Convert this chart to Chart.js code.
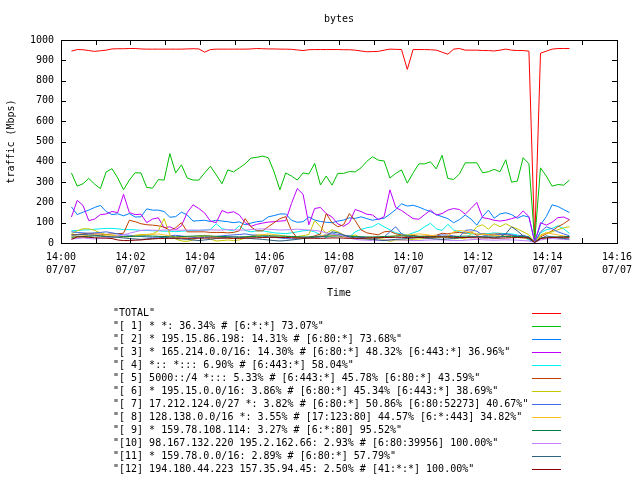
<!DOCTYPE html>
<html>
<head>
<meta charset="utf-8">
<script src="https://cdn.jsdelivr.net/npm/chart.js@4.4.0/dist/chart.umd.min.js"></script>
<style>
  body { margin: 0; background: #fff; }
  canvas { display: block; }
</style>
</head>
<body>
<canvas id="trafficChart" width="640" height="480"></canvas>
<script>
// samples every 10 s, first one 18 s after 14:00 (x axis in minutes)
var sampleStart = 18, sampleStep = 10, sampleCount = 87;
var times = [];
for (var i = 0; i < sampleCount; i++) times.push((sampleStart + i * sampleStep) / 60);

var xTickHours = '14', xTickDate = '07/07';

var seriesNames = [
    '"TOTAL"',
    '"[ 1] * *: 36.34% # [6:*:*] 73.07%"',
    '"[ 2] * 195.15.86.198: 14.31% # [6:80:*] 73.68%"',
    '"[ 3] * 165.214.0.0/16: 14.30% # [6:80:*] 48.32% [6:443:*] 36.96%"',
    '"[ 4] *:: *::: 6.90% # [6:443:*] 58.04%"',
    '"[ 5] 5000::/4 *::: 5.33% # [6:443:*] 45.78% [6:80:*] 43.59%"',
    '"[ 6] * 195.15.0.0/16: 3.86% # [6:80:*] 45.34% [6:443:*] 38.69%"',
    '"[ 7] 17.212.124.0/27 *: 3.82% # [6:80:*] 50.86% [6:80:52273] 40.67%"',
    '"[ 8] 128.138.0.0/16 *: 3.55% # [17:123:80] 44.57% [6:*:443] 34.82%"',
    '"[ 9] * 159.78.108.114: 3.27% # [6:*:80] 95.52%"',
    '"[10] 98.167.132.220 195.2.162.66: 2.93% # [6:80:39956] 100.00%"',
    '"[11] * 159.78.0.0/16: 2.89% # [6:80:*] 57.79%"',
    '"[12] 194.180.44.223 157.35.94.45: 2.50% # [41:*:*] 100.00%"'
];
var seriesColors = ['#ff0000', '#00c000', '#0080ff', '#c000ff', '#00eeee', '#c04000', '#c8c800',
    '#4169e1', '#ffc020', '#008040', '#c080ff', '#306080', '#8b0000'];

var total = [945, 953, 952, 948, 944, 947, 950, 956, 957, 957,
    958, 958, 956, 955, 955, 955, 955, 955, 955, 955,
    956, 957, 956, 940, 953, 955, 955, 955, 955, 955,
    955, 956, 958, 957, 956, 956, 955, 955, 954, 951,
    948, 952, 953, 953, 953, 953, 953, 952, 952, 950,
    946, 942, 943, 944, 950, 955, 954, 953, 855, 953,
    953, 953, 952, 950, 940, 930, 955, 958, 950, 950,
    950, 948, 948, 946, 950, 955, 950, 948, 948, 945,
    5, 935, 945, 955, 958, 958, 958];
var s1 = [345, 280, 292, 318, 290, 268, 350, 366, 320, 262,
    310, 346, 345, 274, 270, 312, 310, 440, 345, 385,
    320, 310, 310, 345, 378, 336, 292, 360, 350, 370,
    390, 418, 422, 428, 420, 350, 262, 345, 330, 310,
    345, 340, 392, 286, 330, 285, 343, 343, 352, 350,
    370, 402, 425, 408, 404, 320, 343, 360, 295, 345,
    390, 390, 400, 365, 432, 318, 313, 340, 395, 395,
    395, 346, 351, 363, 351, 410, 300, 305, 420, 390,
    10, 370, 330, 280, 288, 285, 310];
var s2 = [178, 140, 152, 162, 175, 185, 155, 140, 144, 134,
    145, 128, 129, 168, 162, 162, 155, 127, 130, 152,
    138, 108, 110, 112, 106, 112, 108, 105, 100, 104,
    90, 98, 105, 108, 129, 135, 143, 143, 112, 102,
    105, 128, 113, 106, 102, 100, 108, 113, 124, 121,
    129, 120, 112, 118, 122, 142, 165, 193, 182, 186,
    177, 165, 155, 140, 130, 120, 100, 115, 138, 118,
    88, 130, 162, 122, 143, 149, 140, 122, 135, 128,
    5, 90, 130, 188, 180, 165, 150];
var s3 = [128, 210, 185, 110, 118, 140, 143, 155, 150, 240,
    150, 140, 142, 100, 118, 124, 75, 80, 65, 85,
    150, 188, 170, 148, 108, 100, 160, 148, 154, 138,
    100, 82, 92, 98, 103, 105, 108, 110, 195, 268,
    240, 90, 170, 175, 145, 128, 94, 82, 100, 165,
    155, 142, 138, 115, 130, 262, 175, 160, 140, 120,
    117, 140, 162, 138, 145, 162, 170, 165, 142, 170,
    200, 125, 120, 112, 108, 112, 120, 128, 158, 130,
    5, 100, 88, 102, 125, 128, 115];
var s4 = [60, 62, 64, 65, 68, 70, 72, 72, 70, 66,
    66, 65, 62, 62, 60, 60, 58, 58, 56, 58,
    60, 62, 62, 64, 66, 95, 70, 65, 60, 85,
    62, 55, 60, 60, 55, 50, 48, 46, 50, 55,
    60, 62, 55, 40, 25, 50, 40, 35, 30, 55,
    67, 75, 80, 97, 80, 65, 50, 45, 40, 50,
    60, 80, 97, 70, 62, 92, 64, 55, 50, 45,
    44, 44, 46, 50, 48, 46, 45, 40, 30, 15,
    3, 50, 65, 72, 85, 70, 47];
var s5 = [40, 42, 45, 48, 45, 44, 42, 45, 46, 48,
    112, 105, 95, 90, 88, 85, 78, 62, 75, 100,
    55, 55, 55, 55, 52, 52, 52, 50, 52, 60,
    120, 80, 60, 60, 80, 100, 120, 130, 60, 25,
    25, 28, 35, 45, 145, 100, 80, 90, 145, 110,
    65, 50, 45, 40, 55, 58, 45, 40, 32, 38,
    32, 34, 36, 38, 48, 45, 50, 52, 48, 55,
    38, 45, 42, 44, 45, 40, 38, 32, 30, 25,
    3, 30, 45, 60, 80, 95, 115];
var s6 = [45, 60, 70, 70, 62, 50, 40, 38, 35, 32,
    30, 38, 42, 42, 45, 60, 120, 40, 20, 10,
    8, 15, 30, 35, 20, 10, 12, 15, 12, 15,
    25, 35, 40, 40, 38, 32, 28, 28, 30, 32,
    36, 42, 110, 80, 48, 65, 55, 40, 32, 40,
    25, 20, 18, 22, 18, 8, 15, 15, 15, 18,
    20, 22, 25, 28, 30, 30, 20, 25, 20, 45,
    80, 90, 68, 95, 80, 95, 80, 70, 55, 40,
    3, 40, 50, 55, 65, 75, 80];
var s7 = [55, 52, 50, 48, 50, 52, 55, 50, 45, 40,
    38, 35, 32, 30, 28, 30, 32, 35, 38, 35,
    30, 28, 25, 28, 30, 32, 35, 38, 40, 42,
    45, 40, 38, 35, 30, 28, 25, 22, 20, 22,
    25, 28, 30, 35, 40, 45, 42, 38, 35, 30,
    28, 25, 22, 25, 30, 55, 80, 45, 35, 30,
    28, 25, 30, 35, 40, 38, 35, 30, 62, 65,
    58, 40, 35, 38, 42, 45, 40, 35, 38, 30,
    3, 55, 80, 70, 55, 45, 35];
var s8 = [30, 32, 35, 38, 40, 38, 35, 30, 28, 30,
    32, 35, 38, 40, 42, 45, 40, 35, 30, 28,
    30, 32, 35, 38, 35, 30, 28, 25, 22, 25,
    28, 30, 35, 40, 45, 42, 38, 35, 30, 25,
    22, 25, 30, 35, 40, 38, 35, 30, 25, 22,
    20, 22, 25, 28, 30, 32, 35, 38, 40, 42,
    45, 42, 38, 35, 30, 35, 55, 62, 58, 50,
    45, 42, 40, 38, 35, 32, 30, 28, 25, 22,
    3, 35, 50, 45, 40, 35, 30];
var s9 = [28, 30, 32, 33, 35, 34, 32, 30, 30, 31,
    32, 33, 34, 35, 34, 33, 32, 30, 30, 32,
    33, 34, 35, 35, 34, 33, 32, 31, 30, 30,
    31, 32, 33, 34, 35, 35, 34, 33, 32, 31,
    30, 30, 31, 32, 33, 34, 35, 34, 33, 32,
    31, 30, 30, 31, 32, 33, 34, 35, 35, 34,
    33, 32, 31, 30, 30, 31, 32, 33, 34, 33,
    32, 31, 30, 30, 31, 32, 33, 32, 31, 30,
    3, 25, 28, 30, 30, 31, 32];
var s10 = [20, 22, 25, 22, 20, 22, 25, 30, 35, 40,
    48, 55, 62, 64, 63, 62, 64, 65, 64, 63,
    64, 64, 63, 64, 65, 64, 64, 66, 65, 64,
    64, 66, 68, 70, 68, 66, 64, 65, 66, 68,
    66, 64, 62, 58, 50, 45, 40, 35, 25, 18,
    15, 14, 12, 12, 14, 15, 16, 15, 14, 12,
    12, 14, 15, 16, 15, 14, 12, 12, 14, 16,
    18, 16, 15, 14, 15, 16, 15, 14, 12, 10,
    3, 15, 20, 22, 20, 18, 16];
var s11 = [38, 40, 42, 40, 38, 35, 32, 30, 28, 25,
    22, 20, 18, 20, 22, 25, 28, 25, 22, 20,
    18, 15, 12, 15, 18, 22, 25, 28, 30, 28,
    25, 22, 20, 18, 15, 12, 10, 12, 15, 18,
    22, 25, 28, 30, 35, 55, 50, 40, 30, 25,
    22, 20, 18, 15, 12, 15, 18, 20, 22, 25,
    28, 25, 22, 20, 18, 20, 22, 25, 28, 30,
    32, 30, 28, 25, 30, 45, 80, 60, 35, 20,
    3, 20, 35, 30, 25, 22, 20];
var s12 = [18, 30, 30, 28, 26, 25, 24, 22, 15, 12,
    12, 14, 15, 18, 20, 22, 22, 23, 24, 24,
    23, 23, 24, 24, 25, 25, 24, 24, 23, 23,
    24, 25, 26, 27, 28, 28, 27, 27, 26, 25,
    24, 24, 23, 23, 24, 25, 25, 24, 23, 23,
    24, 25, 26, 26, 27, 27, 28, 28, 27, 26,
    27, 28, 29, 30, 30, 29, 28, 27, 27, 26,
    26, 25, 25, 24, 24, 25, 26, 27, 26, 25,
    3, 22, 25, 27, 28, 28, 28];

var allSeries = [total, s1, s2, s3, s4, s5, s6, s7, s8, s9, s10, s11, s12];

var datasets = allSeries.map(function(values, k) {
    return {
        label: seriesNames[k],
        data: values.map(function(v, j) { return { x: times[j], y: v }; }),
        borderColor: seriesColors[k],
        backgroundColor: seriesColors[k],
        borderWidth: 1,
        pointRadius: 0,
        tension: 0,
        fill: false,
        order: allSeries.length - k   // TOTAL drawn first, [12] on top like gnuplot
    };
});

// gnuplot look: frame, inward tics, title and key drawn by hand
var gnuplotLook = {
    id: 'gnuplotLook',
    beforeDraw: function(chart) {
        var c = chart.ctx;
        c.save();
        c.fillStyle = '#fff';
        c.fillRect(0, 0, chart.width, chart.height);
        c.restore();
    },
    afterDatasetsDraw: function(chart) {
        var c = chart.ctx, a = chart.chartArea;
        var xs = chart.scales.x, ys = chart.scales.y;
        c.save();
        c.strokeStyle = '#000';
        c.lineWidth = 1;
        c.strokeRect(Math.round(a.left) + 0.5, Math.round(a.top) + 0.5,
            Math.round(a.right - a.left), Math.round(a.bottom - a.top));
        c.beginPath();
        ys.ticks.forEach(function(t) {
            var y = Math.round(ys.getPixelForValue(t.value)) + 0.5;
            c.moveTo(a.left, y); c.lineTo(a.left + 5, y);
            c.moveTo(a.right, y); c.lineTo(a.right - 5, y);
        });
        for (var m = 0; m <= 16; m++) {
            var x = Math.round(xs.getPixelForValue(m)) + 0.5;
            c.moveTo(x, a.bottom); c.lineTo(x, a.bottom - 5);
            c.moveTo(x, a.top); c.lineTo(x, a.top + 5);
        }
        c.stroke();
        c.restore();
    },
    afterDraw: function(chart) {
        var c = chart.ctx, a = chart.chartArea;
        c.save();
        c.fillStyle = '#000';
        c.font = "10px 'DejaVu Sans Mono'";
        c.textAlign = 'center';
        c.textBaseline = 'middle';
        c.fillText('bytes', (a.left + a.right) / 2, 19);
        c.textAlign = 'left';
        chart.data.datasets.forEach(function(ds, k) {
            var y = 313 + k * 13;
            c.fillStyle = '#000';
            c.fillText(ds.label, 113, y);
            c.strokeStyle = ds.borderColor;
            c.lineWidth = 1;
            c.beginPath();
            c.moveTo(532, Math.round(y) + 0.5);
            c.lineTo(561, Math.round(y) + 0.5);
            c.stroke();
        });
        c.restore();
    }
};

Chart.defaults.font.family = "'DejaVu Sans Mono', monospace";
Chart.defaults.font.size = 10;
Chart.defaults.color = '#000';

var ctx = document.getElementById('trafficChart').getContext('2d');
var trafficChart = new Chart(ctx, {
    type: 'line',
    data: { datasets: datasets },
    options: {
        responsive: false,
        animation: false,
        devicePixelRatio: 1,
        layout: { padding: { top: 40, right: 19, bottom: 181, left: 0 } },
        plugins: {
            legend: { display: false },
            tooltip: { enabled: false }
        },
        scales: {
            x: {
                type: 'linear',
                min: 0,
                max: 16,
                grid: { display: false, drawTicks: false },
                border: { display: false },
                ticks: {
                    stepSize: 2,
                    padding: 8,
                    maxRotation: 0,
                    font: { size: 10, lineHeight: 1.3 },
                    callback: function(v) {
                        return [xTickHours + ':' + (v < 10 ? '0' : '') + v, xTickDate];
                    }
                },
                title: { display: true, text: 'Time', padding: { top: 4, bottom: 0 } },
                afterFit: function(scale) { scale.height = 56; }
            },
            y: {
                min: 0,
                max: 1000,
                grid: { display: false, drawTicks: false },
                border: { display: false },
                ticks: {
                    stepSize: 100,
                    padding: 7,
                    callback: function(v) { return String(v); }
                },
                title: { display: true, text: 'traffic (Mbps)', padding: { top: 5, bottom: 0 } },
                afterFit: function(scale) { scale.width = 61; }
            }
        }
    },
    plugins: [gnuplotLook]
});
</script>
</body>
</html>
